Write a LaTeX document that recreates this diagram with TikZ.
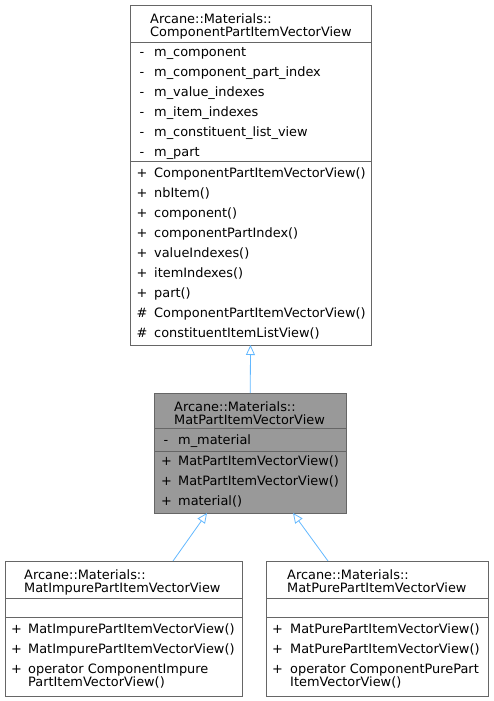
\documentclass[tikz,border=0pt]{standalone}
\usepackage{fontspec}
\setmainfont{DejaVu Sans}
\usetikzlibrary{arrows.meta}
\definecolor{edgegray}{HTML}{666666}
\definecolor{fillgray}{HTML}{999999}
\definecolor{arrowblue}{HTML}{63B8FF}
\begin{document}
\begin{tikzpicture}[x=1pt,y=-1pt,font=\fontsize{12.9}{13}\selectfont,
    cls/.style={draw=edgegray,line width=0.8pt,inner sep=0pt,outer sep=0pt},
    sep/.style={draw=edgegray,line width=0.8pt},
    txt/.style={anchor=base west,inner sep=0pt},
    inherit/.style={draw=arrowblue,line width=0.8pt,-{Triangle[open,length=10pt,width=9pt]}}]
      \useasboundingbox (0,0) rectangle (493,701);

      % base class
      \node[cls,minimum width=241pt,minimum height=340pt] (base) at (250.5,175) {};
      \draw[sep] (130,42) -- (371,42);
      \draw[sep] (130,161.5) -- (371,161.5);
      \node[txt] (bt1) at (150,24) {Arcane::Materials::};
      \node[txt] (bt2) at (150,37) {ComponentPartItemVectorView};
      \node[txt] (ba1m) at (139.5,56.5)  {-}; \node[txt] (ba1) at (154,56.5)  {m\_component};
      \node[txt] (ba2m) at (139.5,76.5)  {-}; \node[txt] (ba2) at (154,76.5)  {m\_component\_part\_index};
      \node[txt] (ba3m) at (139.5,96.5)  {-}; \node[txt] (ba3) at (154,96.5)  {m\_value\_indexes};
      \node[txt] (ba4m) at (139.5,116.5) {-}; \node[txt] (ba4) at (154,116.5) {m\_item\_indexes};
      \node[txt] (ba5m) at (139.5,136.5) {-}; \node[txt] (ba5) at (154,136.5) {m\_constituent\_list\_view};
      \node[txt] (ba6m) at (139.5,156.5) {-}; \node[txt] (ba6) at (154,156.5) {m\_part};
      \node[txt] (bm1m) at (136.5,177) {+}; \node[txt] (bm1) at (154,177) {ComponentPartItemVectorView()};
      \node[txt] (bm2m) at (136.5,197) {+}; \node[txt] (bm2) at (154,197) {nbItem()};
      \node[txt] (bm3m) at (136.5,217) {+}; \node[txt] (bm3) at (154,217) {component()};
      \node[txt] (bm4m) at (136.5,237) {+}; \node[txt] (bm4) at (154,237) {componentPartIndex()};
      \node[txt] (bm5m) at (136.5,257) {+}; \node[txt] (bm5) at (154,257) {valueIndexes()};
      \node[txt] (bm6m) at (136.5,277) {+}; \node[txt] (bm6) at (154,277) {itemIndexes()};
      \node[txt] (bm7m) at (136.5,297) {+}; \node[txt] (bm7) at (154,297) {part()};
      \node[txt] (bm8m) at (136.5,317) {\#}; \node[txt] (bm8) at (154,317) {ComponentPartItemVectorView()};
      \node[txt] (bm9m) at (136.5,337) {\#}; \node[txt] (bm9) at (154,337) {constituentItemListView()};

      % MatPartItemVectorView
      \node[cls,fill=fillgray,minimum width=192.5pt,minimum height=120pt] (mat) at (250.25,453) {};
      \draw[sep] (154,428.5) -- (346.5,428.5);
      \draw[sep] (154,451) -- (346.5,451);
      \node[txt] (mt1) at (174,411.5) {Arcane::Materials::};
      \node[txt] (mt2) at (174,424.5) {MatPartItemVectorView};
      \node[txt] (ma1m) at (163.5,444) {-}; \node[txt] (ma1) at (178,444) {m\_material};
      \node[txt] (mm1m) at (161,465) {+}; \node[txt] (mm1) at (178,465) {MatPartItemVectorView()};
      \node[txt] (mm2m) at (161,485) {+}; \node[txt] (mm2) at (178,485) {MatPartItemVectorView()};
      \node[txt] (mm3m) at (161,505) {+}; \node[txt] (mm3) at (178,505) {material()};

      % MatImpurePartItemVectorView
      \node[cls,minimum width=237.5pt,minimum height=135pt] (impure) at (123.75,628.5) {};
      \draw[sep] (5,598.5) -- (242.5,598.5);
      \draw[sep] (5,617) -- (242.5,617);
      \node[txt] (it1) at (24,579) {Arcane::Materials::};
      \node[txt] (it2) at (24,592) {MatImpurePartItemVectorView};
      \node[txt] (im1m) at (11,633) {+}; \node[txt] (im1) at (28,633) {MatImpurePartItemVectorView()};
      \node[txt] (im2m) at (11,653) {+}; \node[txt] (im2) at (28,653) {MatImpurePartItemVectorView()};
      \node[txt] (im3m) at (11,673) {+}; \node[txt] (im3) at (28,673) {operator ComponentImpure};
      \node[txt] (im3b) at (28,686) {PartItemVectorView()};

      % MatPurePartItemVectorView
      \node[cls,minimum width=222pt,minimum height=135pt] (pure) at (377.5,628.5) {};
      \draw[sep] (266.5,598.5) -- (488.5,598.5);
      \draw[sep] (266.5,617) -- (488.5,617);
      \node[txt] (pt1) at (287,579) {Arcane::Materials::};
      \node[txt] (pt2) at (287,592) {MatPurePartItemVectorView};
      \node[txt] (pm1m) at (272,633) {+}; \node[txt] (pm1) at (290,633) {MatPurePartItemVectorView()};
      \node[txt] (pm2m) at (272,653) {+}; \node[txt] (pm2) at (290,653) {MatPurePartItemVectorView()};
      \node[txt] (pm3m) at (272,673) {+}; \node[txt] (pm3) at (290,673) {operator ComponentPurePart};
      \node[txt] (pm3b) at (290,686) {ItemVectorView()};

      % inheritance
      \coordinate (iout) at (173,561);   % impure top
      \coordinate (min)  at (207,513);   % mat bottom, left
      \coordinate (pout) at (328,561);   % pure top
      \coordinate (mout) at (293,513);   % mat bottom, right
      \draw[inherit] (mat.north) -- (base.south);
      \draw[inherit] (iout) -- (min);
      \draw[inherit] (pout) -- (mout);
    \end{tikzpicture}
\end{document}
